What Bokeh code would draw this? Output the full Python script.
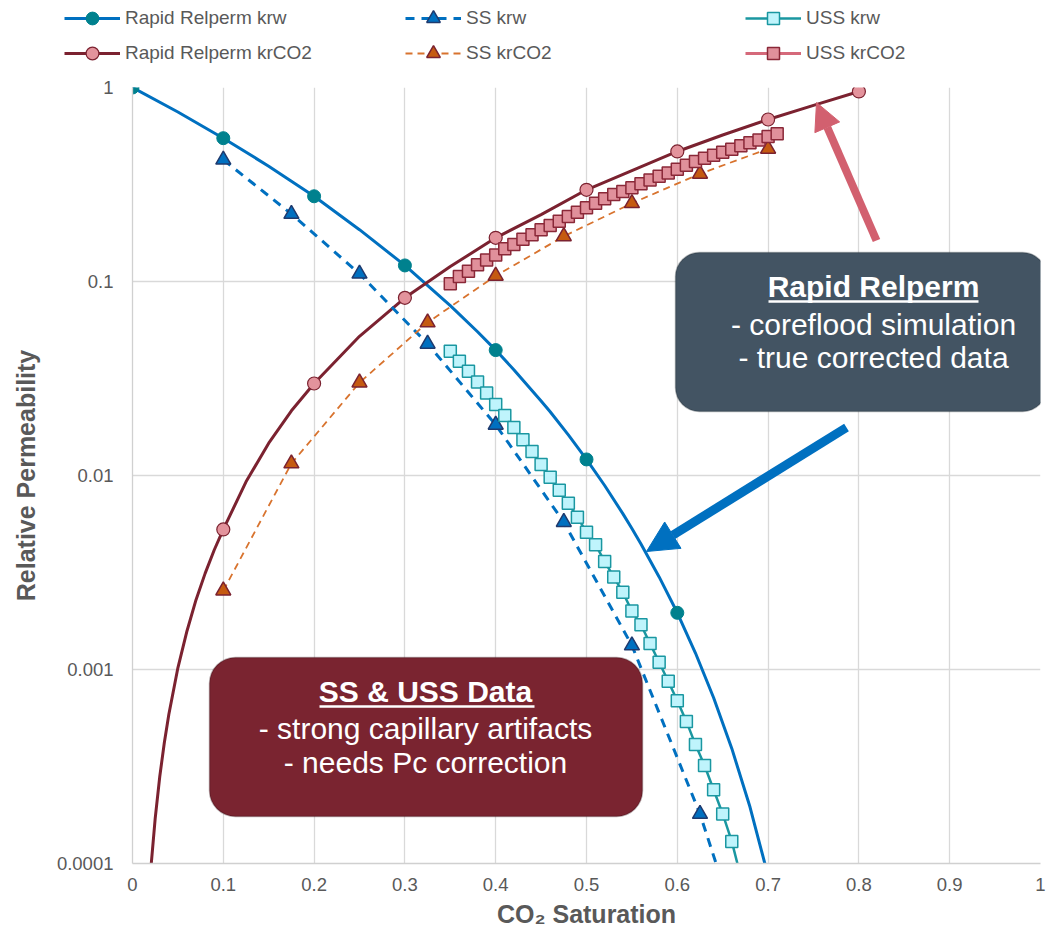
from bokeh.plotting import figure
from bokeh.layouts import column, row
from bokeh.models import (Range1d, FixedTicker, CustomJSTickFormatter, Legend, LegendItem,
                          BoxAnnotation, Label, Arrow, NormalHead)
from bokeh.embed import file_html
from bokeh.resources import INLINE

# ---------------- data ----------------
rapid_sat = [0.0, 0.1, 0.2, 0.3, 0.4, 0.5, 0.6]
rapid_krw = [1.0, 0.548, 0.275, 0.121, 0.0443, 0.0121, 0.00196]

rapid_co2_sat = [0.1, 0.2, 0.3, 0.4, 0.5, 0.6, 0.7, 0.8]
rapid_krco2 = [0.00527, 0.0298, 0.0824, 0.168, 0.297, 0.468, 0.684, 0.954]

rapid_krw_curve_sat = [0.0, 0.05, 0.1, 0.15, 0.2, 0.25, 0.3, 0.35, 0.38, 0.4, 0.42, 0.45,
                       0.46, 0.48, 0.5, 0.52, 0.54, 0.55, 0.56, 0.58, 0.6, 0.62, 0.64,
                       0.66, 0.68, 0.70]
rapid_krw_curve = [1.0, 0.748, 0.548, 0.393, 0.275, 0.185, 0.121, 0.0751, 0.0551, 0.0443,
                   0.0351, 0.0242, 0.0213, 0.0162, 0.0121, 0.00888, 0.00636, 0.00533,
                   0.00444, 0.00300, 0.00196, 0.001216, 0.000715, 0.000392, 0.000196,
                   0.0000863]

rapid_krco2_curve_sat = [0.019, 0.0206, 0.025, 0.03, 0.035, 0.04, 0.05, 0.06, 0.07, 0.08,
                         0.09, 0.1, 0.125, 0.15, 0.175, 0.2, 0.25, 0.3, 0.35, 0.4, 0.45,
                         0.5, 0.55, 0.6, 0.65, 0.7, 0.75, 0.8]
rapid_krco2_curve = [0.000078, 0.000099, 0.000171, 0.000280, 0.000418, 0.000586, 0.00102,
                     0.00158, 0.00229, 0.00313, 0.00413, 0.00527, 0.00928, 0.01468,
                     0.02155, 0.0298, 0.0522, 0.0824, 0.1194, 0.168, 0.2213, 0.297,
                     0.373, 0.468, 0.569, 0.684, 0.809, 0.953]

ss_sat = [0.1, 0.175, 0.25, 0.325, 0.4, 0.475, 0.55, 0.625, 0.7]
ss_krw = [0.424, 0.223, 0.1096, 0.0477, 0.01825, 0.00575, 0.00133, 0.000180, 0.000015]
ss_krco2 = [0.00255, 0.01153, 0.0301, 0.0615, 0.107, 0.171, 0.253, 0.359, 0.483]

uss_krw_sat = [0.35, 0.36, 0.37, 0.38, 0.39, 0.40, 0.41, 0.42, 0.43, 0.44, 0.45, 0.46,
               0.47, 0.48, 0.49, 0.50, 0.51, 0.52, 0.53, 0.54, 0.55, 0.56, 0.57, 0.58,
               0.59, 0.60, 0.61, 0.62, 0.63, 0.64, 0.65, 0.66, 0.67]
uss_krw = [0.0437, 0.0388, 0.0345, 0.0303, 0.0266, 0.0232, 0.0204, 0.0177, 0.0153,
           0.0133, 0.0114, 0.0098, 0.0084, 0.0072, 0.0061, 0.0051, 0.0044, 0.0036,
           0.0030, 0.0025, 0.0020, 0.0017, 0.00136, 0.00109, 0.00087, 0.00069,
           0.00054, 0.00041, 0.00032, 0.00024, 0.00018, 0.00013, 0.000085]

uss_krco2_sat = [0.35, 0.36, 0.37, 0.38, 0.39, 0.40, 0.41, 0.42, 0.43, 0.44, 0.45, 0.46,
                 0.47, 0.48, 0.49, 0.50, 0.51, 0.52, 0.53, 0.54, 0.55, 0.56, 0.57, 0.58,
                 0.59, 0.60, 0.61, 0.62, 0.63, 0.64, 0.65, 0.66, 0.67, 0.68, 0.69, 0.70,
                 0.71]
uss_krco2 = [0.0973, 0.106, 0.113, 0.122, 0.129, 0.137, 0.1475, 0.155, 0.165, 0.174,
             0.1847, 0.1945, 0.2046, 0.2163, 0.2276, 0.2399, 0.2533, 0.2668, 0.2808,
             0.291, 0.304, 0.319, 0.334, 0.349, 0.363, 0.379, 0.397, 0.416, 0.432,
             0.448, 0.464, 0.481, 0.501, 0.519, 0.537, 0.559, 0.577]

x_ticks = [0.0, 0.1, 0.2, 0.3, 0.4, 0.5, 0.6, 0.7, 0.8, 0.9, 1.0]
y_ticks = [0.0001, 0.001, 0.01, 0.1, 1.0]

series_labels = ["Rapid Relperm krw", "SS krw", "USS krw",
                 "Rapid Relperm krCO2", "SS krCO2", "USS krCO2"]

# ---------------- styles ----------------
FONT = "Liberation Sans"
GREY = "#595959"
LINE_STYLE = [
    dict(line_color="#0070C0", line_width=3),
    dict(line_color="#0070C0", line_width=3, line_dash="9 7"),
    dict(line_color="#1A97A1", line_width=2.5),
    dict(line_color="#7B2230", line_width=3),
    dict(line_color="#D8732E", line_width=1.8, line_dash="7 5"),
    dict(line_color="#D5697A", line_width=3),
]
MARK_STYLE = [
    dict(marker="circle", size=13, fill_color="#00818E", line_color="#00818E", line_width=1),
    dict(marker="triangle", size=15, fill_color="#0070C0", line_color="#1F3A6E", line_width=1.5),
    dict(marker="square", size=12, fill_color="#BFF4FC", line_color="#1A97A1", line_width=1.5),
    dict(marker="circle", size=13, fill_color="#E3939C", line_color="#7B2230", line_width=1.2),
    dict(marker="triangle", size=15, fill_color="#C55A11", line_color="#7B2230", line_width=1.5),
    dict(marker="square", size=12, fill_color="#E0909B", line_color="#8A2838", line_width=1.5),
]

# ---------------- legend strip (above the plot) ----------------
LEG_H = 70
leg_fig = figure(width=1052, height=LEG_H, x_range=Range1d(0, 1052), y_range=Range1d(0, LEG_H),
                 x_axis_type=None, y_axis_type=None, output_backend="svg",
                 toolbar_location=None, min_border=0,
                 min_border_left=0, min_border_right=0, min_border_top=0, min_border_bottom=0)
leg_fig.outline_line_color = None
leg_fig.xgrid.visible = False
leg_fig.ygrid.visible = False

# legend item centres (page px) and glyph box heights (marker size = 0.4 * box)
leg_x = [64, 405, 745, 64, 405, 745]
leg_cy = [18, 18, 18, 53, 53, 53]
leg_gh = [32, 34, 30, 32, 34, 30]
for i, lab in enumerate(series_labels):
    # placeholder renderers (off-range point) only provide the legend glyph styles
    lr = leg_fig.line(x=[-1e4, -1e4 - 1], y=[-1e4, -1e4], **LINE_STYLE[i])
    mr = leg_fig.scatter(x=[-1e4], y=[-1e4], **MARK_STYLE[i])
    gh = leg_gh[i]
    leg = Legend(items=[LegendItem(label=lab, renderers=[lr, mr])],
                 location=(leg_x[i], LEG_H - (leg_cy[i] + gh / 2)), orientation="horizontal",
                 padding=0, margin=0, spacing=0,
                 border_line_color=None, background_fill_alpha=0,
                 glyph_width=56, glyph_height=gh, label_height=20, label_standoff=5,
                 label_text_font=FONT, label_text_font_size="19px",
                 label_text_color=GREY, label_text_baseline="middle")
    leg_fig.add_layout(leg, "center")

# ---------------- main figure ----------------
p = figure(width=1052, height=930 - LEG_H, y_axis_type="log",
           x_range=Range1d(0, 1), y_range=Range1d(0.0001, 1),
           output_backend="svg", toolbar_location=None,
           min_border_left=132, min_border_right=12, min_border_top=87 - LEG_H,
           min_border_bottom=930 - LEG_H - (87 - LEG_H) - 776,
           background_fill_color="white", border_fill_color="white")
p.outline_line_color = None

p.xaxis.ticker = FixedTicker(ticks=x_ticks)
p.yaxis.ticker = FixedTicker(ticks=y_ticks)
p.xaxis.formatter = CustomJSTickFormatter(code="return Number(tick.toFixed(1)).toString();")
p.yaxis.formatter = CustomJSTickFormatter(code="return Number(tick.toPrecision(1)).toString();")

for ax in (p.xaxis[0], p.yaxis[0]):
    ax.axis_line_color = "#d0d0d0"
    ax.axis_line_width = 1.3
    ax.major_tick_line_color = None
    ax.minor_tick_line_color = None
    ax.major_tick_out = 0
    ax.major_tick_in = 0
    ax.minor_tick_out = 0
    ax.minor_tick_in = 0
    ax.major_label_text_font = FONT
    ax.major_label_text_font_size = "18.5px"
    ax.major_label_text_color = GREY
    ax.axis_label_text_font = FONT
    ax.axis_label_text_font_size = "25px"
    ax.axis_label_text_font_style = "bold"
    ax.axis_label_text_color = GREY

p.xaxis.axis_label = "CO\u2082 Saturation"
p.yaxis.axis_label = "Relative Permeability"
p.xaxis.major_label_standoff = 14
p.xaxis.axis_label_standoff = 6
p.yaxis.major_label_standoff = 19
p.yaxis.axis_label_standoff = 14

p.xgrid.grid_line_color = "#d9d9d9"
p.ygrid.grid_line_color = "#d9d9d9"
p.xgrid.grid_line_width = 1.3
p.ygrid.grid_line_width = 1.3
p.ygrid.minor_grid_line_color = None

# lines
p.line(rapid_krw_curve_sat, rapid_krw_curve, **LINE_STYLE[0])
p.line(rapid_krco2_curve_sat, rapid_krco2_curve, **LINE_STYLE[3])
p.line(ss_sat, ss_krw, **LINE_STYLE[1])
p.line(ss_sat, ss_krco2, **LINE_STYLE[4])
p.line(uss_krw_sat, uss_krw, **LINE_STYLE[2])
p.line(uss_krco2_sat, uss_krco2, **LINE_STYLE[5])
# markers
p.scatter(rapid_sat, rapid_krw, **MARK_STYLE[0])
p.scatter(rapid_co2_sat, rapid_krco2, **MARK_STYLE[3])
p.scatter(ss_sat, ss_krw, **MARK_STYLE[1])
p.scatter(ss_sat, ss_krco2, **MARK_STYLE[4])
p.scatter(uss_krw_sat, uss_krw, **MARK_STYLE[2])
p.scatter(uss_krco2_sat, uss_krco2, **MARK_STYLE[5])

# ---------------- annotations (positions in page pixels -> data) ----------------
def X(px):
    return (px - 132) / 908.0

def Y(py):
    return 10 ** (-(py - 87) / 194.0)

p.add_layout(BoxAnnotation(left=X(675), right=X(1046), top=Y(252), bottom=Y(411),
                           fill_color="#435463", fill_alpha=1, line_color="#1E2830",
                           line_width=1.5, border_radius=24, level="annotation"))
p.add_layout(BoxAnnotation(left=X(209), right=X(642), top=Y(657), bottom=Y(816),
                           fill_color="#7A2430", fill_alpha=1, line_color="#2A0A10",
                           line_width=1.5, border_radius=26, level="annotation"))

TEXT_SHIFT = 11  # rendered baseline sits ~11px below the requested one

def add_text(txt, cx, by, bold=False):
    p.add_layout(Label(x=X(cx), y=Y(by - TEXT_SHIFT), text=txt, text_align="center",
                       text_baseline="alphabetic", text_font=FONT,
                       text_font_size="30px", text_color="white",
                       text_font_style="bold" if bold else "normal"))

add_text("Rapid Relperm", 873, 297, bold=True)
add_text("- coreflood simulation", 873, 335)
add_text("- true corrected data", 873, 368)
p.add_layout(Arrow(start=None, end=None, x_start=X(768), y_start=Y(301), x_end=X(978),
                   y_end=Y(301), line_color="white", line_width=2.5))

add_text("SS & USS Data", 425, 702, bold=True)
add_text("- strong capillary artifacts", 425, 739)
add_text("- needs Pc correction", 425, 773)
p.add_layout(Arrow(start=None, end=None, x_start=X(319), y_start=Y(706), x_end=X(534),
                   y_end=Y(706), line_color="white", line_width=2.5))

p.add_layout(Arrow(end=NormalHead(size=27, fill_color="#D2606F", line_color="#D2606F"),
                   x_start=X(876), y_start=Y(240), x_end=X(816), y_end=Y(102),
                   line_color="#D2606F", line_width=8))
p.add_layout(Arrow(end=NormalHead(size=31, fill_color="#0070C0", line_color="#0070C0"),
                   x_start=X(846), y_start=Y(427), x_end=X(646), y_end=Y(551),
                   line_color="#0070C0", line_width=9))

layout = column(row(leg_fig, spacing=0), p, spacing=0)
open("out.html", "w").write(file_html(layout, INLINE))
